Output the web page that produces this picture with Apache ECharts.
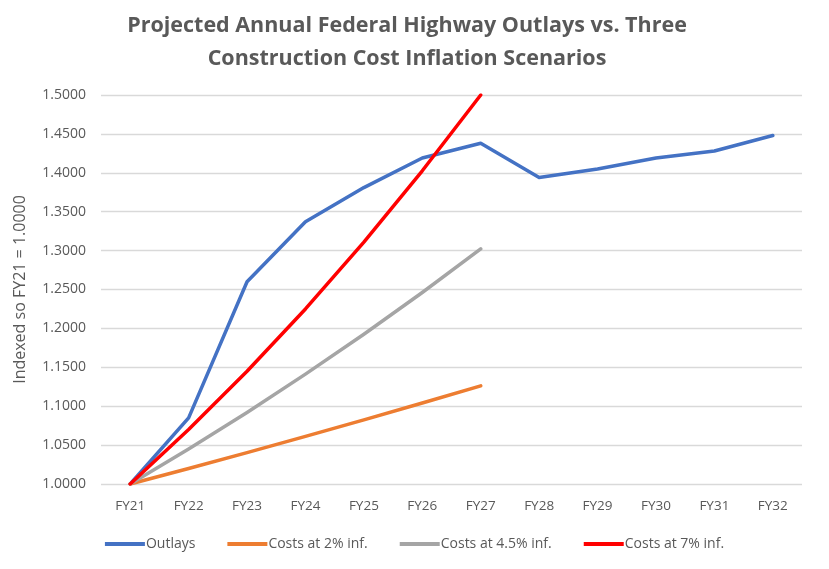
<!DOCTYPE html>
<html><head><meta charset="utf-8">
<script src="https://cdn.jsdelivr.net/npm/echarts@6/dist/echarts.min.js"></script>
<style>html,body{margin:0;padding:0;background:#fff}#c{width:829px;height:569px}</style>
</head><body><div id="c"></div>
<script>
var categories = ['FY21','FY22','FY23','FY24','FY25','FY26','FY27','FY28','FY29','FY30','FY31','FY32'];
var outlays = [1.0000,1.0850,1.2600,1.3370,1.3810,1.4190,1.4380,1.3940,1.4050,1.4190,1.4280,1.4480];
var costs2 = [1.0000,1.0200,1.0404,1.0612,1.0824,1.1041,1.1262];
var costs45 = [1.0000,1.0450,1.0920,1.1412,1.1925,1.2462,1.3023];
var costs7 = [1.0000,1.0700,1.1449,1.2250,1.3108,1.4026,1.5000];
var seriesNames = ['Outlays','Costs at 2% inf.','Costs at 4.5% inf.','Costs at 7% inf.'];
var colors = ['#4472C4','#ED7D31','#A5A5A5','#FF0000'];
var txt = '#595959';
var chart = echarts.init(document.getElementById('c'));
function mk(i, data){
  return {name: seriesNames[i], type:'line', data:data, symbol:'none', smooth:false,
    lineStyle:{width:3.5, color:colors[i], cap:'round', join:'round'}, itemStyle:{color:colors[i]}};
}
chart.setOption({
  animation:false,
  title:{text:'Projected Annual Federal Highway Outlays vs. Three\nConstruction Cost Inflation Scenarios',
    left:402, textAlign:'center', top:4,
    textStyle:{fontFamily:'Open Sans', fontSize:21.5, fontWeight:'bold', color:txt, lineHeight:33}},
  legend:{bottom:13, left:'center', itemWidth:40, itemHeight:4, itemGap:32, icon:'rect',
    textStyle:{fontFamily:'Open Sans', fontSize:14, color:txt, padding:[0,0,0,-4]},
    data:seriesNames},
  grid:{left:101, right:27, top:95, bottom:85, containLabel:false},
  xAxis:{type:'category', data:categories, boundaryGap:true,
    axisLine:{show:false}, axisTick:{show:false},
    axisLabel:{fontFamily:'Open Sans', fontSize:13.5, color:txt, margin:15}},
  yAxis:{type:'value', min:1.0, max:1.5, interval:0.05,
    name:'Indexed so FY21 = 1.0000', nameLocation:'middle', nameGap:73, nameRotate:90,
    nameTextStyle:{fontFamily:'Open Sans', fontSize:16, color:txt},
    axisLine:{show:false}, axisTick:{show:false},
    axisLabel:{fontFamily:'Open Sans', fontSize:14, color:txt, margin:15,
      formatter:function(v){return v.toFixed(4);}},
    splitLine:{lineStyle:{color:'#D9D9D9', width:1.3}}},
  series:[mk(0,outlays), mk(1,costs2), mk(2,costs45), mk(3,costs7)]
});
</script></body></html>
